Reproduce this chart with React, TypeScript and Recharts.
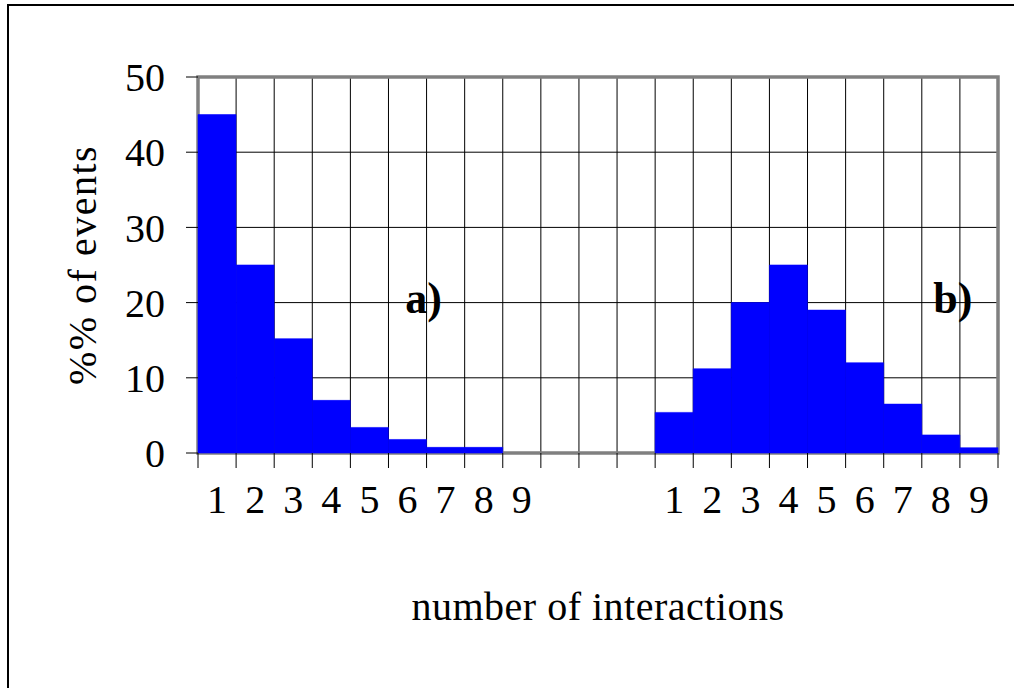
import React from 'react';
import {
  BarChart,
  Bar,
  XAxis,
  YAxis,
  CartesianGrid,
  ReferenceArea,
  ReferenceDot,
  Label,
} from 'recharts';

// Percent of events per interaction count, two panels side by side
const panelA = [45, 25, 15.2, 7, 3.4, 1.8, 0.75, 0.75, 0];
const spacer = [0, 0, 0];
const panelB = [5.4, 11.2, 20, 25, 19, 12, 6.5, 2.4, 0.7];

const slotLabels = [
  '1', '2', '3', '4', '5', '6', '7', '8', '9',
  '', '', '',
  '1', '2', '3', '4', '5', '6', '7', '8', '9',
];

const yTicks = [0, 10, 20, 30, 40, 50];

const data = [...panelA, ...spacer, ...panelB].map((pct, i) => ({
  slot: i,
  pct,
}));

const SERIF = 'Liberation Serif';
const W = 1014;
const H = 688;
const X_TICK_SIZE = 12;
const X_TICK_MARGIN = 20;
const SLOT_TICK_LEN = 15;

// Category tick: label at the slot centre, tick marks on the slot boundaries
const SlotTick = (props: any) => {
  const { x, y, payload, index, visibleTicksCount } = props;
  const half = payload && payload.offset ? payload.offset : 800 / slotLabels.length / 2;
  const axisY = y - X_TICK_SIZE - X_TICK_MARGIN;
  const isLast = index === (visibleTicksCount ?? slotLabels.length) - 1;
  return (
    <g>
      <line x1={x - half} x2={x - half} y1={axisY} y2={axisY + SLOT_TICK_LEN} stroke="#000" strokeWidth={1} />
      {isLast && (
        <line x1={x + half} x2={x + half} y1={axisY} y2={axisY + SLOT_TICK_LEN} stroke="#000" strokeWidth={1} />
      )}
      {slotLabels[payload.value] ? (
        <text
          x={x}
          y={y}
          dy="0.71em"
          textAnchor="middle"
          fill="#000"
          style={{ fontFamily: SERIF, fontSize: 40 }}
        >
          {slotLabels[payload.value]}
        </text>
      ) : null}
    </g>
  );
};

const YTitle = (props: any) => {
  const { x, y, width, height } = props.viewBox;
  const cx = x + width * 0.417;
  const cy = y + height / 2;
  return (
    <text
      x={cx}
      y={cy}
      transform={`rotate(-90 ${cx} ${cy})`}
      textAnchor="middle"
      dominantBaseline="central"
      style={{ fontFamily: SERIF, fontSize: 40, letterSpacing: 1.5 }}
      fill="#000"
    >
      %% of events
    </text>
  );
};

export default function App() {
  return (
    <div
      style={{
        position: 'absolute',
        left: 0,
        top: 0,
        width: W,
        height: H,
        overflow: 'hidden',
        background: '#fff',
        fontFamily: SERIF,
      }}
    >
      <div
        style={{
          position: 'absolute',
          left: 7,
          top: 4,
          width: 1100,
          height: 800,
          border: '2px solid #000',
        }}
      />
      <div style={{ position: 'absolute', left: 0, top: 0 }}>
        <BarChart
          width={W}
          height={H}
          data={data}
          margin={{ top: 77, right: 16, left: 0, bottom: 234 }}
          barCategoryGap={0}
          barGap={0}
        >
          <CartesianGrid
            stroke="#000"
            strokeWidth={1}
            verticalCoordinatesGenerator={({ offset }: any) =>
              Array.from(
                { length: slotLabels.length + 1 },
                (_, i) => offset.left + (i * offset.width) / slotLabels.length,
              )
            }
          />
          <XAxis
            dataKey="slot"
            type="category"
            height={1}
            interval={0}
            axisLine={false}
            tickLine={false}
            tickSize={X_TICK_SIZE}
            tickMargin={X_TICK_MARGIN}
            tick={<SlotTick />}
          >
            <Label
              value="number of interactions"
              position="bottom"
              offset={138}
              style={{ fontFamily: SERIF, fontSize: 40, letterSpacing: 0.5 }}
              fill="#000"
            />
          </XAxis>
          <YAxis
            width={198}
            domain={[0, 50]}
            ticks={yTicks}
            axisLine={false}
            tickSize={12}
            tickMargin={21}
            tickLine={{ stroke: '#000', strokeWidth: 1 }}
            tick={{ fontFamily: SERIF, fontSize: 40, fill: '#000' }}
          >
            <Label content={YTitle} />
          </YAxis>
          <Bar
            dataKey="pct"
            fill="#0000ff"
            stroke="#0000ff"
            strokeWidth={0.6}
            isAnimationActive={false}
          />
          <ReferenceArea
            x1={0}
            x2={slotLabels.length - 1}
            y1={0}
            y2={50}
            ifOverflow="visible"
            fill="none"
            fillOpacity={0}
            stroke="#808080"
            strokeWidth={3.5}
          />
          <ReferenceDot
            x={5}
            y={20.7}
            r={0}
            ifOverflow="visible"
            fill="none"
            stroke="none"
            label={{
              value: 'a)',
              position: 'center',
              dx: 16,
              style: { fontFamily: SERIF, fontSize: 44, fontWeight: 'bold' },
              fill: '#000',
            }}
          />
          <ReferenceDot
            x={19}
            y={20.7}
            r={0}
            ifOverflow="visible"
            fill="none"
            stroke="none"
            label={{
              value: 'b)',
              position: 'center',
              dx: 12,
              style: { fontFamily: SERIF, fontSize: 44, fontWeight: 'bold' },
              fill: '#000',
            }}
          />
        </BarChart>
      </div>
    </div>
  );
}
